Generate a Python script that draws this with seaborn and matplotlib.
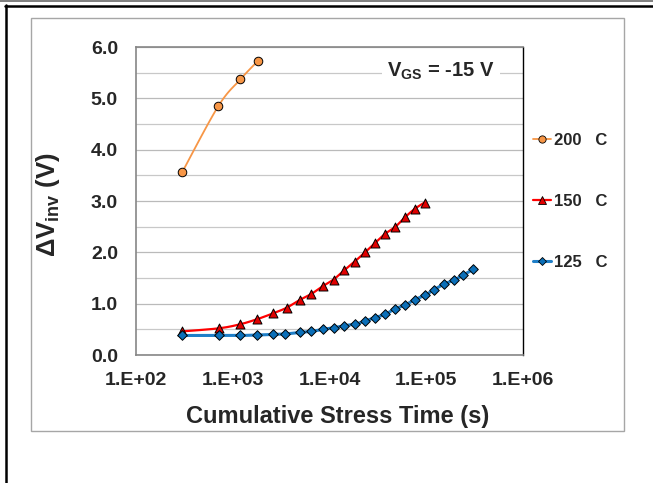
import numpy as np
import pandas as pd
import matplotlib
matplotlib.use("Agg")
import matplotlib.pyplot as plt
from matplotlib.lines import Line2D
from matplotlib.patches import Rectangle
from matplotlib.ticker import FixedLocator, FuncFormatter, LogLocator, NullFormatter
import seaborn as sns

# Cumulative stress time (s) and threshold shift (V) per temperature
t200 = [300, 710, 1200, 1820]
v200 = [3.56, 4.85, 5.37, 5.73]

t150 = [300, 720, 1200, 1800, 2600, 3600, 4900, 6500, 8500, 11000, 14200,
        18200, 23300, 29500, 37500, 47500, 60000, 76500, 96000]
v150 = [0.46, 0.52, 0.60, 0.70, 0.81, 0.92, 1.07, 1.19, 1.34, 1.47, 1.65,
        1.82, 2.00, 2.18, 2.36, 2.49, 2.68, 2.85, 2.97]

t125 = [300, 720, 1200, 1800, 2600, 3500, 4900, 6500, 8500, 11000, 14200,
        18200, 23300, 29500, 37500, 47500, 60000, 76500, 96000, 120000,
        152000, 194000, 242000, 307000]
v125 = [0.38, 0.38, 0.38, 0.39, 0.40, 0.41, 0.44, 0.46, 0.50, 0.53, 0.57,
        0.60, 0.66, 0.73, 0.79, 0.90, 0.97, 1.08, 1.16, 1.27, 1.38, 1.46,
        1.56, 1.67]

series_labels = ["200   C", "150   C", "125   C"]
y_ticks = [0, 1, 2, 3, 4, 5, 6]
x_ticks = [1e2, 1e3, 1e4, 1e5, 1e6]

sns.set_style("white")
plt.rcParams["font.family"] = ["Liberation Sans", "DejaVu Sans"]
plt.rcParams["font.weight"] = "bold"
plt.rcParams["mathtext.fontset"] = "custom"
plt.rcParams["mathtext.rm"] = "Liberation Sans:bold"
plt.rcParams["mathtext.bf"] = "Liberation Sans:bold"
plt.rcParams["mathtext.it"] = "Liberation Sans:bold"

W, H = 653, 483
fig = plt.figure(figsize=(W / 100, H / 100), dpi=100)


def fx(px):
    return px / W


def fy(py):
    return 1 - py / H


# page frame lines and chart-area border
fig.add_artist(Line2D([0, 1], [fy(0.6), fy(0.6)], transform=fig.transFigure,
                      color="#7f7f7f", lw=1.4))
fig.add_artist(Line2D([fx(5), 1], [fy(6), fy(6)], transform=fig.transFigure,
                      color="black", lw=1.8))
fig.add_artist(Line2D([fx(5.5), fx(5.5)], [fy(5.3), 0], transform=fig.transFigure,
                      color="black", lw=1.8))
fig.add_artist(Rectangle((fx(31), fy(431)), fx(624) - fx(31), fy(18) - fy(431),
                         transform=fig.transFigure, fill=False,
                         ec="#a6a6a6", lw=1.0))

ax = fig.add_axes([fx(136), fy(355), fx(523) - fx(136), fy(47) - fy(355)])
ax.set_xscale("log")
ax.set_xlim(1e2, 1e6)
ax.set_ylim(0, 6)

# y axis: labelled majors, half-volt minor gridlines
ax.yaxis.set_major_locator(FixedLocator(y_ticks))
ax.yaxis.set_minor_locator(FixedLocator(np.arange(0.5, 6, 1.0)))
ax.yaxis.set_major_formatter(FuncFormatter(lambda v, p: f"{v:.1f}"))
ax.grid(which="major", axis="y", color="#bababa", lw=0.9)
ax.grid(which="minor", axis="y", color="#c8c8c8", lw=0.9)
ax.grid(which="both", axis="x", visible=False)
ax.set_axisbelow(True)
ax.tick_params(axis="y", which="major", direction="out", length=4.5, width=0.8,
               color="#868686", pad=8.5, labelsize=14)
ax.tick_params(axis="y", which="minor", length=0)

# x axis: decades with Excel-style labels
ax.xaxis.set_major_locator(FixedLocator(x_ticks))
ax.xaxis.set_major_formatter(
    FuncFormatter(lambda v, p: f"1.E+{int(round(np.log10(v))):02d}"))
ax.xaxis.set_minor_locator(LogLocator(base=10, subs=np.arange(2, 10)))
ax.xaxis.set_minor_formatter(NullFormatter())
ax.tick_params(axis="x", which="major", direction="inout", length=7, width=0.8,
               color="#868686", pad=8.5, labelsize=14)
ax.tick_params(axis="x", which="minor", direction="in", length=3, width=0.8,
               color="#868686")

for side in ("left", "bottom", "top"):
    ax.spines[side].set_color("#868686")
    ax.spines[side].set_linewidth(1.2)
ax.spines["right"].set_color("black")
ax.spines["right"].set_linewidth(1.0)

# smoothed connecting curves (Catmull-Rom style, in screen-proportional units)
def smooth(xs, ys, n=24):
    u = np.log10(np.asarray(xs, float)) * 96.75
    v = np.asarray(ys, float) * 51.33
    P = np.column_stack([u, v])
    out = [P[0]]
    for i in range(len(P) - 1):
        p0 = P[i - 1] if i > 0 else P[i]
        p3 = P[i + 2] if i + 2 < len(P) else P[i + 1]
        c1 = P[i] + (P[i + 1] - p0) / 6
        c2 = P[i + 1] - (p3 - P[i]) / 6
        s = np.linspace(0, 1, n)[1:, None]
        seg = ((1 - s) ** 3) * P[i] + 3 * ((1 - s) ** 2) * s * c1 \
            + 3 * (1 - s) * s ** 2 * c2 + s ** 3 * P[i + 1]
        out.extend(seg)
    out = np.array(out)
    return 10 ** (out[:, 0] / 96.75), out[:, 1] / 51.33


styles = [
    (t200, v200, "#f79646", "#f79646", "o", 38, 1.3),
    (t150, v150, "#ff0000", "#e00000", "^", 42, 1.6),
    (t125, v125, "#1f7fc8", "#0b6fb8", "D", 24, 2.2),
]

handles = []
for (tx, vy, lc, mc, mk, ms, lw), lab in zip(styles, series_labels):
    sx, sy = smooth(tx, vy)
    ax.plot(sx, sy, color=lc, lw=lw, zorder=3)
    df = pd.DataFrame({"t": tx, "v": vy})
    sns.scatterplot(data=df, x="t", y="v", ax=ax, marker=mk, s=ms, color=mc,
                    edgecolor="black", linewidth=0.7, zorder=4, legend=False)
    handles.append(Line2D([], [], color=lc, lw=lw, marker=mk,
                          markersize=np.sqrt(ms) * 0.85, markerfacecolor=mc,
                          markeredgecolor="black", markeredgewidth=0.6))

ax.set_xlabel("")
ax.set_ylabel("")

ax.text(0.788, 0.922, "V$_{\\mathbf{GS}}$ = -15 V", transform=ax.transAxes,
        ha="center", va="center", fontsize=14.5, fontweight="bold",
        bbox=dict(boxstyle="square,pad=0.25", fc="white", ec="none"), zorder=5)

fig.legend(handles, series_labels, loc="center left",
           bbox_to_anchor=(fx(533), fy(201.7)), frameon=False, fontsize=12,
           handlelength=1.1, handletextpad=0.15, labelspacing=2.76,
           borderpad=0, borderaxespad=0)

fig.text(fx(48), fy(205), "ΔV$_{\\mathbf{inv}}$ (V)", rotation=90,
         ha="center", va="center", fontsize=18.5, fontweight="bold")
fig.text(fx(338), fy(416.5), "Cumulative Stress Time (s)",
         ha="center", va="center", fontsize=17, fontweight="bold")

fig.savefig("out.png", dpi=100, facecolor="white")
